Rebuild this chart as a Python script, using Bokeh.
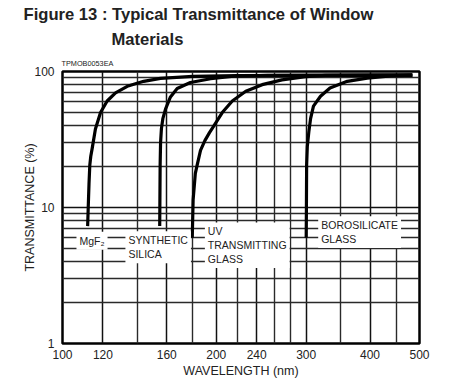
from bokeh.plotting import figure
from bokeh.models import FixedTicker, Title, Label
from bokeh.embed import file_html
from bokeh.resources import INLINE

# ---- data ----
mgf2_wl = [112.0, 112.3, 112.7, 113.1, 113.6, 114.3, 116.0, 118.7, 122.3, 127.0, 133.9, 144.2, 155.5, 180.0, 220.0, 300.0, 484.0]
mgf2_t = [7.3, 10.0, 15.0, 20.5, 23.8, 27.1, 37.8, 50.0, 60.7, 69.7, 77.8, 84.7, 89.0, 92.0, 93.3, 93.8, 94.0]

silica_wl = [155.0, 155.1, 155.3, 155.6, 156.2, 157.2, 159.1, 162.7, 167.7, 178.0, 195.0, 216.6, 252.0, 484.0]
silica_t = [7.3, 10.0, 20.5, 30.0, 38.0, 45.0, 52.8, 65.0, 75.0, 83.0, 88.5, 92.3, 93.8, 94.0]

uv_wl = [179.5, 180.2, 182.0, 183.5, 186.3, 190.0, 194.0, 198.0, 205.5, 215.0, 228.5, 246.0, 269.0, 299.0, 327.0, 484.0]
uv_t = [6.0, 11.4, 17.8, 20.5, 26.3, 31.0, 35.5, 40.0, 49.9, 60.7, 71.5, 80.0, 86.7, 91.5, 93.5, 94.0]

boro_wl = [300.0, 300.3, 300.6, 301.5, 303.6, 306.0, 310.0, 320.0, 334.0, 361.0, 395.0, 439.0, 484.0]
boro_t = [6.0, 10.0, 20.5, 28.0, 36.0, 45.0, 55.6, 65.8, 75.7, 84.7, 89.5, 93.0, 94.0]

x_major = [100, 120, 160, 200, 240, 300, 400, 500]
x_minor = [140, 180, 220, 260, 280, 350, 450]
y_major = [1, 10, 100]
y_minor = [2, 3, 4, 5, 6, 7, 8, 9, 20, 30, 40, 50, 60, 70, 80, 90]

labels = ["MgF\u2082", "SYNTHETIC\nSILICA", "UV\nTRANSMITTING\nGLASS", "BOROSILICATE\nGLASS"]
label_wl = [106.5, 132.8, 190.0, 316.7]
label_t = [5.70, 5.10, 5.28, 6.60]

FONT = "Liberation Sans"

p = figure(width=444, height=380, x_axis_type="log", y_axis_type="log",
           x_range=(100, 500), y_range=(1, 100),
           output_backend="svg", toolbar_location=None,
           min_border_left=62, min_border_right=25, min_border_bottom=34, min_border_top=71)
p.title.visible = False

# titles (later added = farther from plot)
t3 = Title(text="TPMOB0053EA", text_font=FONT, text_font_size="7.3px", text_font_style="normal",
           text_color="#222222", align="left", offset=-1, standoff=7)
t2 = Title(text="Materials", text_font=FONT, text_font_size="16.6px", text_font_style="bold",
           text_color="#222222", align="left", offset=49, standoff=9)
t1 = Title(text="Figure 13 : Typical Transmittance of Window", text_font=FONT, text_font_size="16.6px",
           text_font_style="bold", text_color="#222222", align="left", offset=-39, standoff=0)
p.add_layout(t3, "above")
p.add_layout(t2, "above")
p.add_layout(t1, "above")

# axes / grid
p.xaxis.ticker = FixedTicker(ticks=x_major, minor_ticks=x_minor)
p.yaxis.ticker = FixedTicker(ticks=y_major, minor_ticks=y_minor)
p.xaxis.major_label_overrides = {v: str(v) for v in x_major}
p.yaxis.major_label_overrides = {v: str(v) for v in y_major}
for ax in (p.xaxis, p.yaxis):
    ax.major_tick_in = 0
    ax.major_tick_out = 0
    ax.minor_tick_in = 0
    ax.minor_tick_out = 0
    ax.axis_line_color = None
    ax.major_label_text_font = FONT
    ax.major_label_text_font_size = "12px"
    ax.major_label_text_color = "#222222"
    ax.axis_label_text_font = FONT
    ax.axis_label_text_font_size = "12.5px"
    ax.axis_label_text_font_style = "normal"
    ax.axis_label_text_color = "#222222"
p.xaxis.axis_label = "WAVELENGTH (nm)"
p.yaxis.axis_label = "TRANSMITTANCE (%)"
p.xaxis.major_label_standoff = 6
p.yaxis.major_label_standoff = 8
p.xaxis.axis_label_standoff = 2
p.yaxis.axis_label_standoff = -6

for g in (p.xgrid, p.ygrid):
    g.grid_line_color = "#111111"
    g.grid_line_width = 1.5
    g.minor_grid_line_color = "#2a2a2a"
    g.minor_grid_line_width = 1.4

p.outline_line_color = "black"
p.outline_line_width = 2.5

# curves
for wl, t in ((mgf2_wl, mgf2_t), (silica_wl, silica_t), (uv_wl, uv_t), (boro_wl, boro_t)):
    p.line(wl, t, line_color="black", line_width=3.2, line_join="round")

# material labels with white boxes
for txt, xw, yt in zip(labels, label_wl, label_t):
    p.add_layout(Label(x=xw, y=yt, text=txt, text_font=FONT, text_font_size="10.5px",
                       text_color="#222222", text_align="left", text_baseline="middle",
                       text_line_height=1.15,
                       background_fill_color="white", background_fill_alpha=1.0,
                       padding=3))

open("out.html", "w").write(file_html(p, INLINE))
